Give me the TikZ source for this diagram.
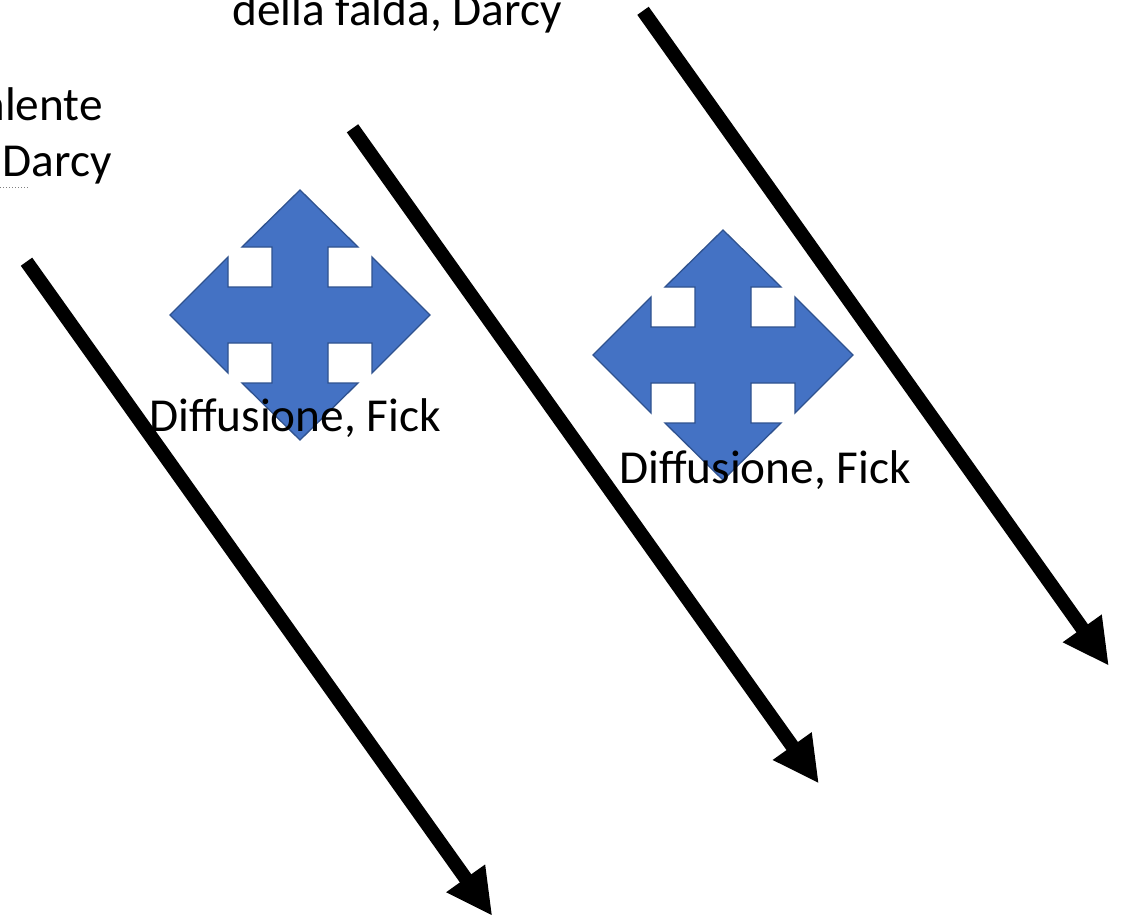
\documentclass[tikz,border=0pt]{standalone}
\usepackage{fontspec}
\setmainfont{Carlito}
\usetikzlibrary{calc}
\definecolor{quadfill}{RGB}{68,114,196}
\definecolor{quadline}{RGB}{47,82,143}
\tikzset{
  shaft/.style={line width=14pt, line cap=butt, black},
  headfill/.style={fill=black},
  quadstyle/.style={fill=quadfill, draw=quadline, line width=1.3pt, line join=miter},
  lbl/.style={inner sep=0pt, font=\fontsize{47.3}{56}\selectfont, text=black},
  quadarrow/.pic={
    \path[quadstyle] (0,-125) -- (58,-68) -- (28,-68) -- (28,-28) -- (72,-28) -- (72,-58)
      -- (130,0) -- (72,58) -- (72,28) -- (28,28) -- (28,68) -- (58,68) -- (0,125)
      -- (-58,68) -- (-28,68) -- (-28,28) -- (-72,28) -- (-72,58) -- (-130,0)
      -- (-72,-58) -- (-72,-28) -- (-28,-28) -- (-28,-68) -- (-58,-68) -- cycle;
  }
}
\begin{document}
\begin{tikzpicture}[x=1pt,y=-1pt]
\useasboundingbox (0,0) rectangle (1122,916);
\clip (0,0) rectangle (1122,916);
\fill[white] (0,0) rectangle (1122,916);
% flow arrows
\coordinate (s1) at (26.5,261.7);  \coordinate (t1) at (491.7,915);
\coordinate (s2) at (352.5,128.3); \coordinate (t2) at (818.3,782.7);
\coordinate (s3) at (643,10.8);    \coordinate (t3) at (1108.3,665);
\foreach \i in {1,2,3}{
  \coordinate (b\i) at ($(t\i)!45pt!(s\i)$);
  \coordinate (wa\i) at ($(b\i)!24pt!90:(t\i)$);
  \coordinate (wb\i) at ($(b\i)!24pt!-90:(t\i)$);
  \draw[shaft] (s\i) -- ($(b\i)!3pt!(t\i)$);
  \fill[headfill] (wa\i) -- (t\i) -- (wb\i) -- cycle;
}
% diffusion symbols
\pic (q1) at (300,315) {quadarrow};
\pic (q2) at (723,355) {quadarrow};
% labels
\node[lbl, anchor=base west] (d1) at (149,431.7) {Diffusione, Fick};
\node[lbl, anchor=base west] (d2) at (619,483.3) {Diffusione, Fick};
\node[lbl, anchor=base west] (top) at (232,25) {della falda, Darcy};
\node[lbl, anchor=base east] (l1) at (103,120) {alente};
\node[lbl, anchor=base east] (l2) at (112,176.5) {Darcy};
\coordinate (u1) at (0,187);
\coordinate (u2) at (28,187);
\draw[gray, line width=1pt, dotted] (u1) -- (u2);
\end{tikzpicture}
\end{document}
